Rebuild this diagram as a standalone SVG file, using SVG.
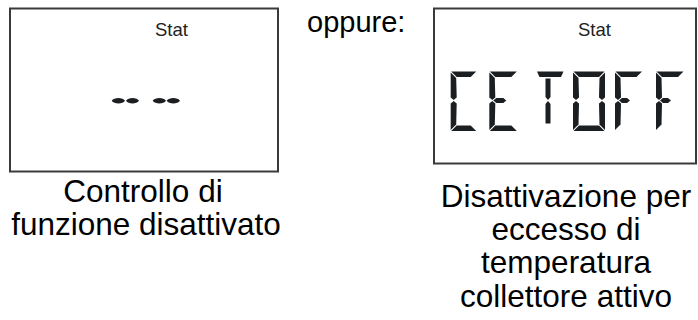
<svg xmlns="http://www.w3.org/2000/svg" width="698" height="320" viewBox="0 0 698 320">
<style>
.frame{fill:#fff;stroke:#3a3a3a;stroke-width:2}
.stat{font-family:"Liberation Sans",Arial,sans-serif;font-size:18.5px;fill:#222}
.lbl{font-family:"Liberation Sans",Arial,sans-serif;font-size:31.5px;fill:#000;text-anchor:middle}
.seg{fill:#1c1f22}
</style>
<rect width="698" height="320" fill="#fff"/>
<g id="display-left">
  <rect class="frame" x="10" y="8.5" width="268" height="163"/>
  <text class="stat" x="155" y="36">Stat</text>
  <g class="seg">
    <path d="M111.7,100.7 C114,97 122.7,97 125,100.7 C122.7,104.4 114,104.4 111.7,100.7 Z"/>
    <path d="M126,100.7 C128.3,97 136.7,97 139,100.7 C136.7,104.4 128.3,104.4 126,100.7 Z"/>
    <path d="M152.7,100.7 C155,97 163.7,97 166,100.7 C163.7,104.4 155,104.4 152.7,100.7 Z"/>
    <path d="M166.7,100.7 C169,97 177.7,97 180,100.7 C177.7,104.4 169,104.4 166.7,100.7 Z"/>
  </g>
</g>
<g id="oppure">
  <text x="307" y="32" style="font-family:'Liberation Sans',Arial,sans-serif;font-size:29px;fill:#000">oppure:</text>
</g>
<g id="display-right">
  <rect class="frame" x="434" y="8.5" width="262" height="155"/>
  <text class="stat" x="578" y="36">Stat</text>
  <g class="seg">
    <!-- C -->
    <polygon points="451.2,71.5 476.2,71.5 470.7,77 456.7,77"/>
    <polygon points="450.7,72.5 456.2,78 456.7,97.5 453.7,100 450.7,97.5"/>
    <polygon points="450.7,103.5 453.7,101 456.7,103.5 456.2,124.5 450.7,130"/>
    <polygon points="456.7,125.5 470.7,125.5 476.2,131 451.2,131"/>
    <!-- E -->
    <polygon points="489.8,71.5 516.8,71.5 511.3,77 495.3,77"/>
    <polygon points="489.3,72.5 494.8,78 495.3,97.5 492.3,100 489.3,97.5"/>
    <polygon points="489.3,103.5 492.3,101 495.3,103.5 494.8,124.5 489.3,130"/>
    <polygon points="495.3,125.5 511.3,125.5 516.8,131 489.8,131"/>
    <polygon points="493.3,100.5 496.3,98 503.3,98 506.3,100.5 503.3,103 496.3,103"/>
    <!-- T -->
    <polygon points="537,71.5 563.5,71.5 561,77 539.5,77"/>
    <polygon points="545.5,78.5 550.5,78.5 550.5,97 548,100 545.5,97"/>
    <polygon points="545.5,104 548,101 550.5,104 550.5,123.5 545.5,123.5"/>
    <!-- O -->
    <polygon points="573.5,71.5 604.5,71.5 599,77 579,77"/>
    <polygon points="573,72.5 578.5,78 579,97.5 576,100 573,97.5"/>
    <polygon points="573,103.5 576,101 579,103.5 578.5,124.5 573,130"/>
    <polygon points="579,125.5 599,125.5 604.5,131 573.5,131"/>
    <polygon points="605,72.5 599.5,78 599,97.5 602,100 605,97.5"/>
    <polygon points="605,103.5 602,101 599,103.5 599.5,124.5 605,130"/>
    <!-- F -->
    <polygon points="615.5,71.5 642,71.5 636.5,77 621,77"/>
    <polygon points="615,72.5 620.5,78 621,97.5 618,100 615,97.5"/>
    <polygon points="615,103.5 618,101 621,103.5 620.5,124.5 615,130"/>
    <polygon points="619,100.5 622,98 627,98 630,100.5 627,103 622,103"/>
    <!-- F -->
    <polygon points="656.5,71.5 683.5,71.5 678,77 662,77"/>
    <polygon points="656,72.5 661.5,78 662,97.5 659,100 656,97.5"/>
    <polygon points="656,103.5 659,101 662,103.5 661.5,124.5 656,130"/>
    <polygon points="660,100.5 663,98 668,98 671,100.5 668,103 663,103"/>
  </g>
</g>
<g id="label-left">
  <text class="lbl" x="143" y="202">Controllo di</text>
  <text class="lbl" x="146" y="235">funzione disattivato</text>
</g>
<g id="label-right">
  <text class="lbl" x="566" y="207">Disattivazione per</text>
  <text class="lbl" x="566" y="240">eccesso di</text>
  <text class="lbl" x="566" y="273">temperatura</text>
  <text class="lbl" x="566" y="307">collettore attivo</text>
</g>
<g id="connectors"/>
</svg>
